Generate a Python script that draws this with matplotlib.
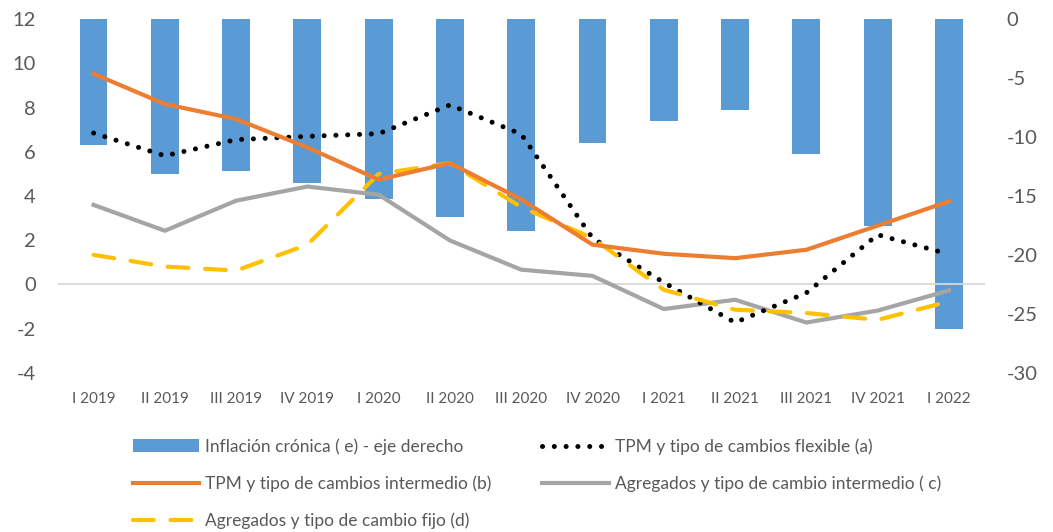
import matplotlib.pyplot as plt
import numpy as np

# Data
quarters = ["I 2019", "II 2019", "III 2019", "IV 2019", "I 2020", "II 2020", "III 2020",
            "IV 2020", "I 2021", "II 2021", "III 2021", "IV 2021", "I 2022"]

inflacion_cronica = [-10.7, -13.1, -12.85, -13.9, -15.25, -16.75, -18.0,
                     -10.5, -8.64, -7.73, -11.43, -17.5, -26.3]
tpm_flexible = [6.85, 5.82, 6.55, 6.7, 6.82, 8.12, 6.8, 2.1, 0.09, -1.72, -0.38, 2.25, 1.37]
tpm_intermedio = [9.53, 8.16, 7.48, 6.2, 4.74, 5.49, 3.85, 1.8, 1.39, 1.19, 1.57, 2.66, 3.76]
agregados_intermedio = [3.6, 2.43, 3.79, 4.43, 4.06, 1.99, 0.67, 0.39, -1.11, -0.69, -1.72, -1.18, -0.27]
agregados_fijo = [1.34, 0.81, 0.63, 1.8, 5.0, 5.49, 3.5, 2.1, -0.24, -1.14, -1.29, -1.6, -0.77]

plt.rcParams['font.family'] = ['Lato', 'DejaVu Sans']
plt.rcParams['axes.unicode_minus'] = False

fig = plt.figure(figsize=(10.53, 5.32), dpi=100)
ax = fig.add_axes([0.055, 0.299, 0.88, 0.665])
ax2 = ax.twinx()

x = np.arange(len(quarters))

# Bars on the right axis, drawn behind the lines
bars = ax2.bar(x, inflacion_cronica, width=0.39, color='#5B9BD5',
               label='Inflación crónica ( e) - eje derecho')
ax2.set_ylim(-30, 0)
ax2.set_yticks(np.arange(-30, 1, 5))

ax.set_zorder(ax2.get_zorder() + 1)
ax.patch.set_visible(False)

ax.axhline(0, color='#D9D9D9', linewidth=1.3, zorder=1)

l_a, = ax.plot(x, tpm_flexible, color='black', linewidth=3.6,
               linestyle=(0, (0.01, 2.35)), dash_capstyle='round',
               label='TPM y tipo de cambios flexible (a)', zorder=3)
l_b, = ax.plot(x, tpm_intermedio, color='#ED7D31', linewidth=3.0,
               label='TPM y tipo de cambios intermedio (b)', zorder=4)
l_c, = ax.plot(x, agregados_intermedio, color='#A5A5A5', linewidth=3.0,
               label='Agregados y tipo de cambio intermedio ( c)', zorder=2)
l_d, = ax.plot(x, agregados_fijo, color='#FFC000', linewidth=3.0,
               linestyle=(0, (5.0, 4.0)), dash_capstyle='round',
               label='Agregados y tipo de cambio fijo (d)', zorder=3)

ax.set_ylim(-4, 12)
ax.set_yticks(np.arange(-4, 13, 2))
ax.set_xlim(-0.5, len(quarters) - 0.5)
ax.set_xticks(x)
ax.set_xticklabels(quarters)

for a in (ax, ax2):
    for s in a.spines.values():
        s.set_visible(False)
    a.tick_params(length=0, colors='#595959')

ax.tick_params(axis='y', labelsize=14.5, pad=16)
ax2.tick_params(axis='y', labelsize=14.5, pad=16)
ax.tick_params(axis='x', labelsize=11, pad=14)

handles = [bars, l_b, l_d, l_a, l_c]
labels = [h.get_label() for h in handles]
fig.legend(handles, labels, ncol=2, loc='upper left', bbox_to_anchor=(0.111, 0.206),
           frameon=False, fontsize=12.5, handlelength=3.85, handletextpad=0.35,
           columnspacing=2.9, labelspacing=1.2, labelcolor='#595959')

fig.savefig('out.png', dpi=100)
